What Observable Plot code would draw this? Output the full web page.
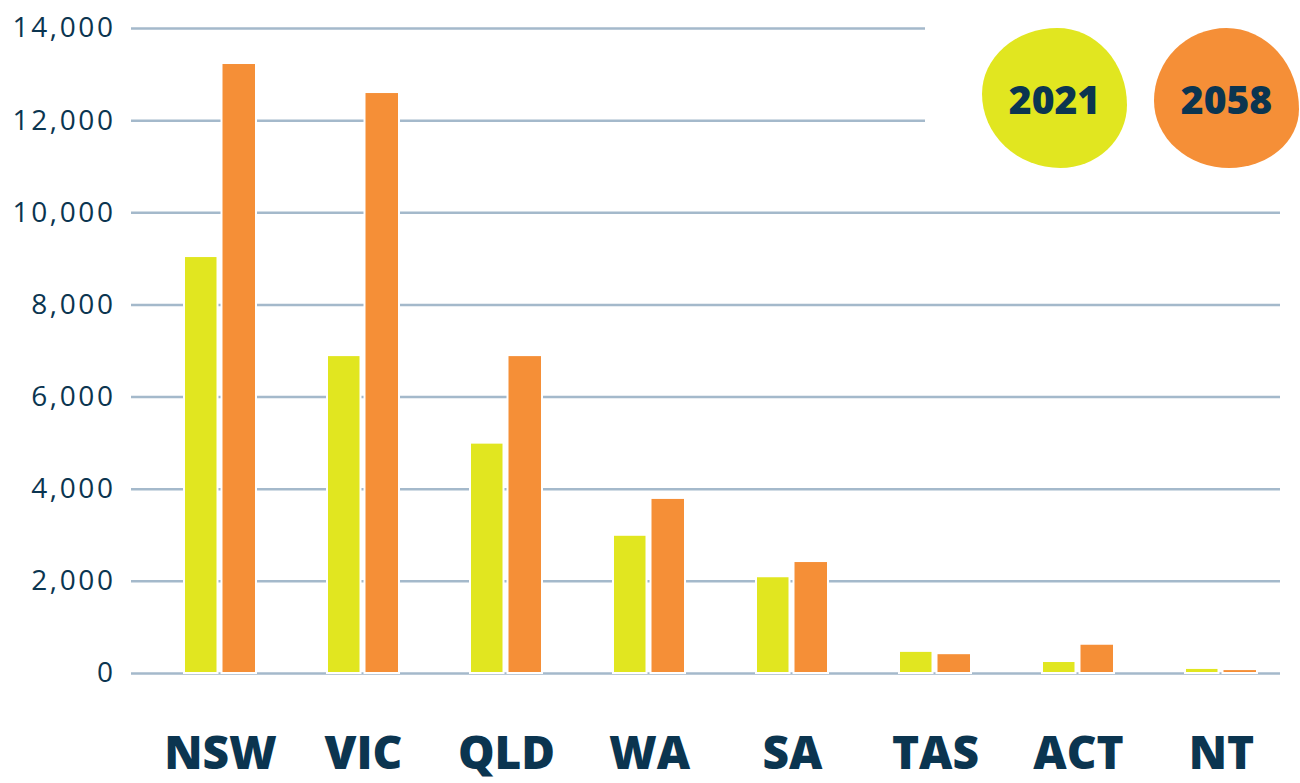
<!DOCTYPE html>
<html>
<head>
<meta charset="utf-8">
<script src="https://cdn.jsdelivr.net/npm/d3@7"></script>
<script src="https://cdn.jsdelivr.net/npm/@observablehq/plot@0.6"></script>
<style>
  html, body { margin: 0; padding: 0; background: #fff; }
  #wrap { position: relative; width: 1300px; height: 783px; overflow: hidden; }
  .blob { position: absolute; display: flex; align-items: center; justify-content: center;
          font-family: "Open Sans", sans-serif; font-weight: 800; font-size: 39px; color: #0b3550; }
  #chart svg g[aria-label="y-axis tick label"] text { letter-spacing: 2.6px; }
</style>
</head>
<body>
<div id="wrap">
  <div id="chart"></div>
</div>
<script>
const states = ["NSW", "VIC", "QLD", "WA", "SA", "TAS", "ACT", "NT"];
const v2021 = [9050, 6900, 5000, 3000, 2100, 480, 260, 110];
const v2058 = [13240, 12610, 6900, 3800, 2430, 430, 635, 85];
const years = ["2021", "2058"];
const yTicks = [0, 2000, 4000, 6000, 8000, 10000, 12000, 14000];
const colors = ["#e1e620", "#f58f37"];
const navy = "#0b3550";
const gridColor = "#a4b9cb";

const rows = states.map((s, i) => ({state: s, v2021: v2021[i], v2058: v2058[i]}));

const chart = Plot.plot({
  width: 1300,
  height: 783,
  marginLeft: 131,
  marginRight: 20,
  marginTop: 28,
  marginBottom: 110,
  style: {fontFamily: "Open Sans, sans-serif", color: navy, background: "transparent"},
  x: {type: "band", domain: states, range: [146.8, 1293.7], paddingInner: 0.495, paddingOuter: 0.2475, label: null},
  y: {domain: [0, 14000], label: null},
  marks: [
    Plot.ruleY(yTicks.filter(t => t <= 10000), {stroke: gridColor, strokeWidth: 2.5}),
    Plot.ruleY(yTicks.filter(t => t > 10000), {stroke: gridColor, strokeWidth: 2.5, insetRight: 355}),
    Plot.barY(rows, {x: "state", y: "v2021", fill: colors[0], stroke: "white", strokeWidth: 2, insetRight: 38.5}),
    Plot.barY(rows, {x: "state", y: "v2058", fill: colors[1], stroke: "white", strokeWidth: 2, insetLeft: 37.5}),
    Plot.axisY({ticks: yTicks, tickFormat: d3.format(","), tickSize: 0, tickPadding: 16, fontSize: 28, fontWeight: 400, label: null}),
    Plot.axisX({tickSize: 0, tickPadding: 63, fontSize: 46, fontWeight: 800, label: null})
  ]
});
document.getElementById("chart").appendChild(chart);

// Legend blobs (HTML overlay)
const wrap = document.getElementById("wrap");
const blobSpecs = [
  {left: 982, top: 28, w: 145, h: 140, radius: "52% 48% 46% 54% / 47% 55% 45% 53%"},
  {left: 1154, top: 28, w: 145, h: 140, radius: "50% 50% 48% 52% / 52% 58% 42% 48%"}
];
years.forEach((yr, i) => {
  const b = document.createElement("div");
  b.className = "blob";
  const s = blobSpecs[i];
  b.style.left = s.left + "px";
  b.style.top = s.top + "px";
  b.style.width = s.w + "px";
  b.style.height = s.h + "px";
  b.style.borderRadius = s.radius;
  b.style.background = colors[i];
  b.textContent = yr;
  wrap.appendChild(b);
});
</script>
</body>
</html>
